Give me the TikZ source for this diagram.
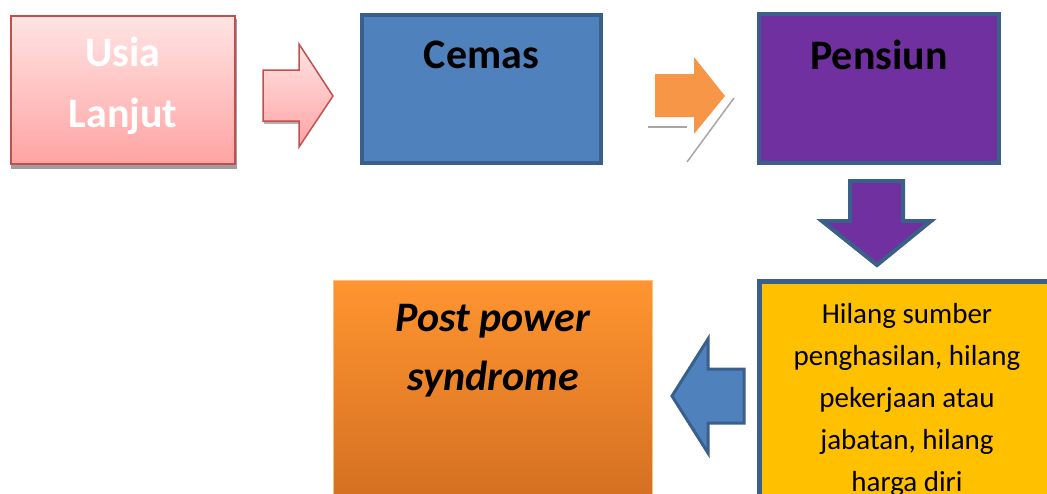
\documentclass[tikz,border=0pt]{standalone}
\usepackage{fontspec}
\setmainfont{Carlito}
\usetikzlibrary{calc}
\definecolor{pinkLine}{HTML}{C0504D}
\definecolor{pinkTop}{HTML}{FFE4E4}
\definecolor{pinkBot}{HTML}{FFA3A3}
\definecolor{blueFill}{HTML}{4F81BD}
\definecolor{blueLine}{HTML}{3A5F8B}
\definecolor{purpleFill}{HTML}{7030A0}
\definecolor{orangeArrow}{HTML}{F79646}
\definecolor{yellowFill}{HTML}{FFC000}
\definecolor{orangeTop}{HTML}{FF9530}
\definecolor{orangeBot}{HTML}{D06C20}

\begin{document}
\begin{tikzpicture}[x=1pt,y=-1pt,
    box/.style={rectangle,inner sep=0pt},
    title/.style={font=\bfseries\fontsize{42}{61}\selectfont,align=center},
    body/.style={font=\fontsize{29}{42}\selectfont,align=center}]
\useasboundingbox (0,0) rectangle (1047,493);
\clip (0,0) rectangle (1047,493);

% shadows
\fill[gray!75] (11,19) rectangle (237,169);
\fill[gray!60] (264,74) rectangle (299,124);

% boxes
\node[box,draw=pinkLine,line width=2pt,top color=pinkTop,bottom color=pinkBot,
    minimum width=224pt,minimum height=148pt] (usia) at (123,90) {};
\node[box,draw=blueLine,line width=4pt,fill=blueFill,
    minimum width=239pt,minimum height=148pt] (cemas) at (481.5,89) {};
\node[box,draw=blueLine,line width=4pt,fill=purpleFill,
    minimum width=240pt,minimum height=149pt] (pensiun) at (879,88.5) {};
\node[box,draw=orangeTop!60!white,line width=1pt,top color=orangeTop,bottom color=orangeBot,
    minimum width=319pt,minimum height=240pt] (post) at (493,400) {};
\node[box,draw=blueLine,line width=5pt,fill=yellowFill,
    minimum width=298pt,minimum height=237pt] (hilang) at (908.5,400) {};

% block arrows
\draw[pinkLine,line width=1.5pt,top color=pinkTop,bottom color=pinkBot]
    (263,70) -- (299,70) -- (299,44) -- (333,96) -- (299,147) -- (299,121) -- (263,121) -- cycle;
\fill[orangeArrow]
    (655,74) -- (694,74) -- (694,57) -- (725,96) -- (694,134) -- (694,117) -- (655,117) -- cycle;
\draw[gray!70,line width=1.5pt] (648,127) -- (687,127);
\draw[gray!70,line width=1.5pt] (687,162) -- (734,98);
\draw[blueLine,line width=4pt,fill=purpleFill,line join=miter]
    (850,181) -- (903,181) -- (903,221) -- (931,221) -- (877,265) -- (822,221) -- (850,221) -- cycle;
\draw[blueLine,line width=3pt,fill=blueFill]
    (672,396) -- (708,339) -- (708,369) -- (744,369) -- (744,423) -- (708,423) -- (708,453) -- cycle;

% texts
\node[title,white] (usiaText) at (123,86) {Usia\\Lanjut};
\node[title] (cemasText) at (481.5,54.5) {Cemas};
\node[title] (pensiunText) at (879,54.5) {Pensiun};
\node[title,font=\bfseries\itshape\fontsize{42}{59}\selectfont] (postText) at (493,351) {Post power\\syndrome};
\node[body] (hilangText) at (907,400) {Hilang sumber\\penghasilan, hilang\\pekerjaan atau\\jabatan, hilang\\harga diri};
\end{tikzpicture}
\end{document}
